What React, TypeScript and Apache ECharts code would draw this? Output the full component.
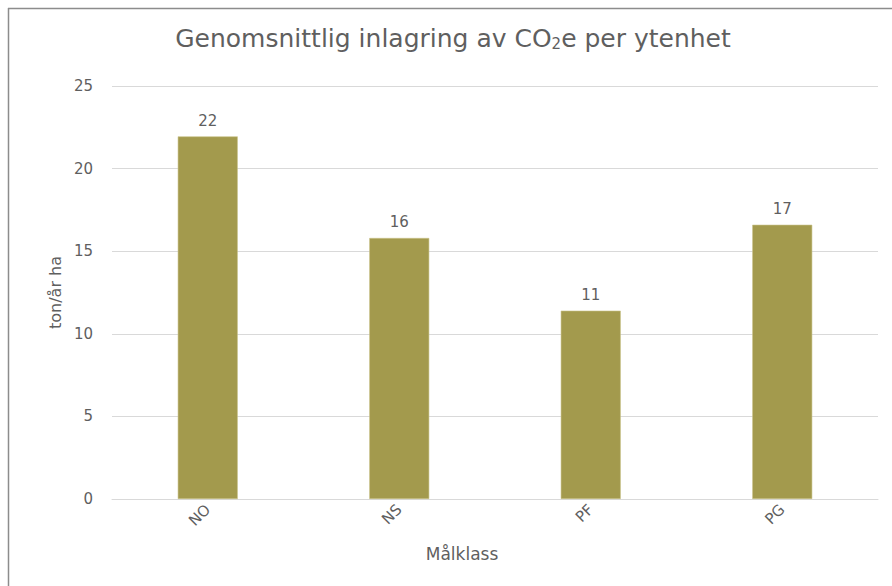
import React, { useEffect, useRef } from "react";
import * as echarts from "echarts";

// Målklass categories and their average CO2e storage (ton/år ha)
const categories = ["NO", "NS", "PF", "PG"];
const storage = [21.95, 15.8, 11.4, 16.6];
const yTicks = { min: 0, max: 25, interval: 5 };

const TEXT = "#5f5f5f";
const GRID = "#d9d9d9";
const BAR = "#a39a4d";
const FONT = "'DejaVu Sans', 'Noto Sans', sans-serif";

export default function App() {
  const ref = useRef<HTMLDivElement>(null);

  useEffect(() => {
    if (!ref.current) return;
    const chart = echarts.init(ref.current, undefined, { renderer: "svg" });
    chart.setOption({
      animation: false,
      backgroundColor: "#ffffff",
      textStyle: { fontFamily: FONT },
      grid: { left: 112, right: 14, top: 86, bottom: 87 },
      xAxis: {
        type: "category",
        data: categories,
        axisLine: { lineStyle: { color: GRID, width: 1 } },
        axisTick: { show: false },
        axisLabel: {
          rotate: 45,
          margin: 8,
          color: TEXT,
          fontSize: 15,
          fontFamily: FONT,
        },
      },
      yAxis: {
        type: "value",
        min: yTicks.min,
        max: yTicks.max,
        interval: yTicks.interval,
        name: "ton/år ha",
        nameLocation: "middle",
        nameGap: 43,
        nameTextStyle: { color: TEXT, fontSize: 16, fontFamily: FONT },
        axisLine: { show: false },
        axisTick: { show: false },
        axisLabel: { color: TEXT, fontSize: 15, margin: 19, fontFamily: FONT },
        splitLine: { lineStyle: { color: GRID, width: 1 } },
      },
      series: [
        {
          type: "bar",
          data: storage,
          barWidth: 60,
          itemStyle: { color: BAR, borderColor: "#c9c28a", borderWidth: 0.6 },
          label: {
            show: true,
            position: "top",
            distance: 8,
            color: TEXT,
            fontSize: 15,
            fontFamily: FONT,
            formatter: (p: any) => String(Math.round(p.value)),
          },
        },
      ],
      graphic: [
        {
          type: "text",
          x: 453,
          y: 38,
          style: {
            text: "Genomsnittlig inlagring av CO{sub|2}e per ytenhet",
            fill: TEXT,
            fontSize: 25,
            fontFamily: FONT,
            textAlign: "center",
            textVerticalAlign: "middle",
            rich: {
              sub: {
                fontSize: 15,
                fill: TEXT,
                fontFamily: FONT,
                padding: [11, 0, 0, 0],
              },
            },
          },
        },
        {
          type: "text",
          x: 462,
          y: 554,
          style: {
            text: "Målklass",
            fill: TEXT,
            fontSize: 17,
            fontFamily: FONT,
            textAlign: "center",
            textVerticalAlign: "middle",
          },
        },
        {
          type: "line",
          shape: { x1: 8, y1: 8.5, x2: 892, y2: 8.5 },
          style: { stroke: "#8c8c8c", lineWidth: 1.5 },
        },
        {
          type: "line",
          shape: { x1: 8.5, y1: 8, x2: 8.5, y2: 586 },
          style: { stroke: "#8c8c8c", lineWidth: 1.5 },
        },
      ],
    });
    return () => chart.dispose();
  }, []);

  return (
    <div
      ref={ref}
      style={{ position: "absolute", left: 0, top: 0, width: 892, height: 586 }}
    />
  );
}
